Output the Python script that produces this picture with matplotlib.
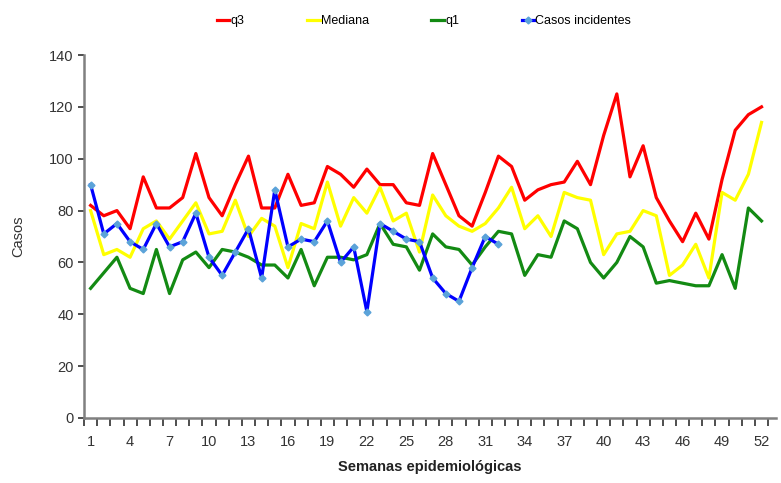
import matplotlib.pyplot as plt
from matplotlib.ticker import MultipleLocator

plt.rcParams['font.family'] = ['Liberation Sans Narrow', 'Liberation Sans', 'DejaVu Sans']

# Data
semanas = list(range(1, 53))
q3 = [82, 78, 80, 73, 93, 81, 81, 85, 102, 85, 78, 90, 101, 81, 81, 94, 82, 83, 97, 94,
      89, 96, 90, 90, 83, 82, 102, 90, 78, 74, 87, 101, 97, 84, 88, 90, 91, 99, 90, 109,
      125, 93, 105, 85, 76, 68, 79, 69, 92, 111, 117, 120]
mediana = [80, 63, 65, 62, 73, 76, 69, 76, 83, 71, 72, 84, 70, 77, 74, 58, 75, 73, 91, 74,
           85, 79, 89, 76, 79, 64, 86, 78, 74, 72, 75, 81, 89, 73, 78, 70, 87, 85, 84, 63,
           71, 72, 80, 78, 55, 59, 67, 54, 87, 84, 94, 114]
q1 = [50, 56, 62, 50, 48, 65, 48, 61, 64, 58, 65, 64, 62, 59, 59, 54, 65, 51, 62, 62,
      61, 63, 75, 67, 66, 57, 71, 66, 65, 59, 66, 72, 71, 55, 63, 62, 76, 73, 60, 54,
      60, 70, 66, 52, 53, 52, 51, 51, 63, 50, 81, 76]
casos = [90, 71, 75, 68, 65, 75, 66, 68, 79, 62, 55, 64, 73, 54, 88, 66, 69, 68, 76, 60,
         66, 41, 75, 72, 69, 68, 54, 48, 45, 58, 70, 67]

fig = plt.figure(figsize=(7.81, 4.83), dpi=100)
ax = fig.add_axes([0.1076, 0.1346, 0.886, 0.7515])

ax.plot(semanas, q3, color='#ff0000', lw=2.3, label='q3')
ax.plot(semanas, mediana, color='#ffff00', lw=2.3, label='Mediana')
ax.plot(semanas, q1, color='#138a13', lw=2.3, label='q1')
ax.plot(semanas[:len(casos)], casos, color='#0000ff', lw=2.3, marker='D', ms=3.5,
        mfc='#5ba3d9', mec='#5ba3d9', label='Casos incidentes')

ax.set_xlim(0.5, 53.1)
ax.set_ylim(0, 140)
ax.yaxis.set_major_locator(MultipleLocator(20))
ax.set_xticks(list(range(1, 53, 3)))
ax.set_xticks([i + 0.5 for i in range(0, 53)], minor=True)
ax.tick_params(axis='x', which='major', length=0, pad=12, labelsize=10.5, labelcolor='#333333')
ax.tick_params(axis='x', which='minor', length=6, width=1.3, color='#404040')
ax.tick_params(axis='y', length=4, width=1.3, color='#404040', labelsize=10.5, labelcolor='#333333')

for s in ['top', 'right']:
    ax.spines[s].set_visible(False)
for s in ['left', 'bottom']:
    ax.spines[s].set_color('#808080')
    ax.spines[s].set_linewidth(1.8)

ax.set_ylabel('Casos', fontsize=10.5, color='#333333', labelpad=17)
ax.set_xlabel('Semanas epidemiológicas', fontsize=10.5, fontweight='bold', color='#222222', labelpad=8)

fig.legend(loc='center', bbox_to_anchor=(0.543, 0.956), ncol=4, frameon=False, fontsize=9,
           handlelength=1.0, handletextpad=0.1, columnspacing=5.0)

fig.savefig('out.png', dpi=100)
